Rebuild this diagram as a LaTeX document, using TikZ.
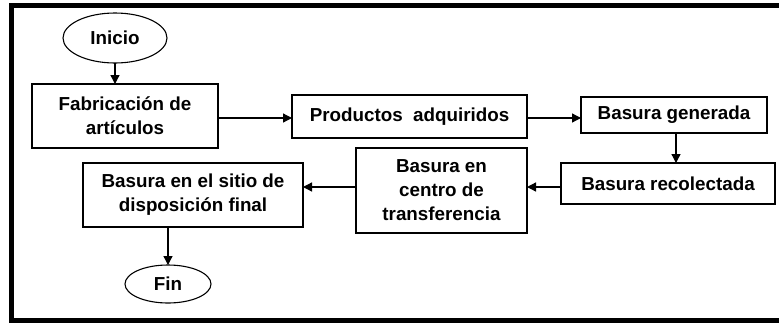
\documentclass[tikz,border=0pt]{standalone}
\usepackage{fontspec}
\setmainfont{Liberation Sans}
\usetikzlibrary{arrows.meta,shapes.geometric}
\begin{document}
\begin{tikzpicture}[x=1pt,y=-1pt,
  every node/.style={font=\bfseries\fontsize{18.8}{24}\selectfont, align=center, inner sep=0pt, outer sep=0pt},
  flowbox/.style={draw, line width=1.3pt, rectangle},
  term/.style={draw, line width=1.1pt, ellipse},
  flowarrow/.style={line width=1.3pt, -{Triangle[length=9pt,width=9pt]}}]
\useasboundingbox (0,0) rectangle (779,322);
\begin{scope}
\clip (0,0) rectangle (779,322);
\draw[line width=5pt, line cap=butt] (790,5.5) -- (11,5.5) -- (11,320.5) -- (790,320.5);
\end{scope}
\node[term, minimum width=104pt, minimum height=50pt] (inicio) at (115,38) {Inicio};
\node[flowbox, minimum width=186pt, minimum height=64pt] (fab) at (125,116) {Fabricación de\\artículos};
\node[flowbox, minimum width=235pt, minimum height=43pt] (prod) at (409.5,116.5) {Productos~ adquiridos};
\node[flowbox, minimum width=186pt, minimum height=36pt] (gen) at (674,115) {Basura generada};
\node[flowbox, minimum width=214pt, minimum height=41pt] (rec) at (668,183.5) {Basura recolectada};
\node[flowbox, minimum width=171pt, minimum height=85pt] (cen) at (441.5,190.5) {Basura en\\centro de\\transferencia};
\node[flowbox, minimum width=220pt, minimum height=64pt] (sit) at (193,195) {Basura en el sitio de\\disposición final};
\node[term, minimum width=86pt, minimum height=38pt] (fin) at (168,284) {Fin};
\draw[flowarrow] (inicio.south) -- (inicio.south |- fab.north);
\draw[flowarrow] ([yshift=-2pt]fab.east) -- ([yshift=-2pt]fab.east -| prod.west);
\draw[flowarrow] ([yshift=-1.5pt]prod.east) -- ([yshift=-1.5pt]prod.east -| gen.west);
\draw[flowarrow] ([xshift=2pt]gen.south) -- ([xshift=2pt]gen.south |- rec.north);
\draw[flowarrow] ([yshift=-3.5pt]rec.west) -- ([yshift=-3.5pt]rec.west -| cen.east);
\draw[flowarrow] ([yshift=3.5pt]cen.west) -- ([yshift=3.5pt]cen.west -| sit.east);
\draw[flowarrow] (fin.north |- sit.south) -- (fin.north);
\end{tikzpicture}
\end{document}
